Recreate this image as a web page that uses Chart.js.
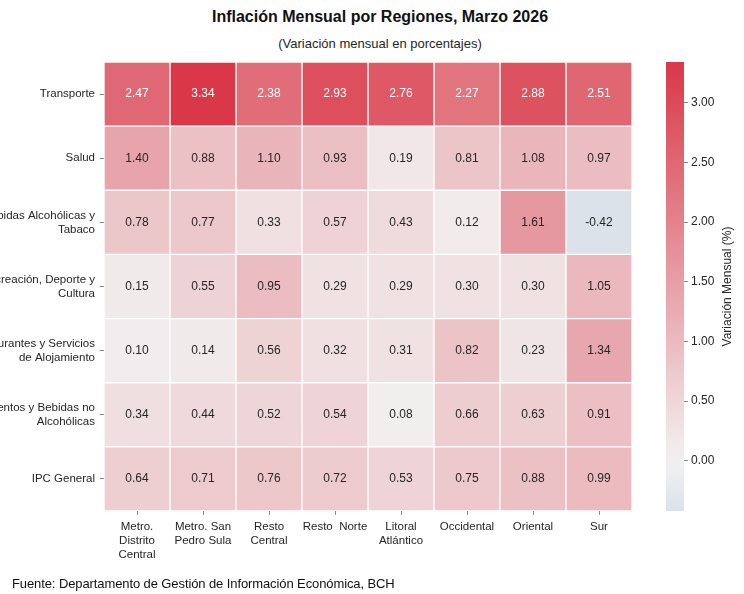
<!DOCTYPE html>
<html lang="es">
<head>
<meta charset="utf-8">
<title>Inflación Mensual por Regiones</title>
<script src="https://cdn.jsdelivr.net/npm/chart.js@4.4.1/dist/chart.umd.min.js"></script>
<style>
  html, body { margin: 0; padding: 0; background: #fff; }
  #wrap { position: relative; width: 744px; height: 594px; overflow: hidden; font-family: "Liberation Sans", Arial, sans-serif; color: #262626; }
  #heat { position: absolute; left: 0; top: 0; }
  #cbar { position: absolute; left: 650px; top: 0; }
  .title { position: absolute; left: 0; width: 760px; text-align: center; top: 7px; font-size: 16px; line-height: 20px; font-weight: bold; color: #111; }
  .subtitle { position: absolute; left: 0; width: 760px; text-align: center; top: 36px; font-size: 13px; line-height: 16px; }
  .footer { position: absolute; left: 12px; top: 576px; font-size: 13px; line-height: 16px; color: #111; letter-spacing: -0.1px; }
</style>
</head>
<body>
<div id="wrap">
  <div class="title">Inflación Mensual por Regiones, Marzo 2026</div>
  <div class="subtitle">(Variación mensual en porcentajes)</div>
  <canvas id="heat" width="744" height="594"></canvas>
  <canvas id="cbar" width="94" height="594"></canvas>
  <div class="footer">Fuente: Departamento de Gestión de Información Económica, BCH</div>
</div>
<script>
// Regions (columns) and categories (rows)
const regions = [
  ["Metro.", "Distrito", "Central"],
  ["Metro. San", "Pedro Sula"],
  ["Resto", "Central"],
  ["Resto  Norte"],
  ["Litoral", "Atlántico"],
  ["Occidental"],
  ["Oriental"],
  ["Sur"],
];
const categories = [
  ["Transporte"],
  ["Salud"],
  ["Bebidas Alcohólicas y", "Tabaco"],
  ["Recreación, Deporte y", "Cultura"],
  ["Restaurantes y Servicios", "de Alojamiento"],
  ["Alimentos y Bebidas no", "Alcohólicas"],
  ["IPC General"],
];

// Monthly variation (%) per category, one value per region
const transporte   = [2.47, 3.34, 2.38, 2.93, 2.76, 2.27, 2.88, 2.51];
const salud        = [1.40, 0.88, 1.10, 0.93, 0.19, 0.81, 1.08, 0.97];
const bebidas      = [0.78, 0.77, 0.33, 0.57, 0.43, 0.12, 1.61, -0.42];
const recreacion   = [0.15, 0.55, 0.95, 0.29, 0.29, 0.30, 0.30, 1.05];
const restaurantes = [0.10, 0.14, 0.56, 0.32, 0.31, 0.82, 0.23, 1.34];
const alimentos    = [0.34, 0.44, 0.52, 0.54, 0.08, 0.66, 0.63, 0.91];
const ipcGeneral   = [0.64, 0.71, 0.76, 0.72, 0.53, 0.75, 0.88, 0.99];

// Colour bar ticks
const cbarTicks = [0, 0.5, 1, 1.5, 2, 2.5, 3];

const rows = [transporte, salud, bebidas, recreacion, restaurantes, alimentos, ipcGeneral];
const allValues = rows.flat();
const VMIN = Math.min(...allValues);
const VMAX = Math.max(...allValues);

// Diverging palette centred at 0 (blue - light grey - red)
const MID = [242, 242, 242];
const HIGH = [218, 56, 72];
const LOW = [59, 117, 175];

function colorFor(v) {
  const t = Math.min(1, Math.abs(v) / VMAX);
  const end = v >= 0 ? HIGH : LOW;
  const c = MID.map((m, i) => Math.round(m + (end[i] - m) * t));
  return `rgb(${c[0]}, ${c[1]}, ${c[2]})`;
}

const TEXT = "#262626";
const FAMILY = "'Liberation Sans', Arial, sans-serif";
const FONT = { family: FAMILY, size: 12 };
const TICK_FONT = { family: FAMILY, size: 11.5, lineHeight: 1.22 };

// one stacked dataset per region, each cell one unit wide
const datasets = regions.map((r, j) => ({
  label: r.join(" "),
  data: categories.map(() => 1),
  values: rows.map(row => row[j]),
  backgroundColor: rows.map(row => colorFor(row[j])),
  borderColor: "#ffffff",
  borderWidth: 1,
  borderSkipped: false,
  barPercentage: 1,
  categoryPercentage: 1,
}));

const cellLabels = {
  id: "cellLabels",
  afterDatasetsDraw(chart) {
    const ctx = chart.ctx;
    ctx.save();
    ctx.font = `${FONT.size}px ${FONT.family}`;
    ctx.textAlign = "center";
    ctx.textBaseline = "middle";
    chart.data.datasets.forEach((ds, i) => {
      chart.getDatasetMeta(i).data.forEach((el, k) => {
        const v = ds.values[k];
        const p = el.getCenterPoint();
        ctx.fillStyle = v > 2 ? "#ffffff" : TEXT;
        ctx.fillText(v.toFixed(2), p.x, p.y);
      });
    });
    ctx.restore();
  },
};

new Chart(document.getElementById("heat"), {
  type: "bar",
  data: { labels: categories, datasets },
  options: {
    indexAxis: "y",
    responsive: false,
    animation: false,
    layout: { padding: { left: 0, right: 112, top: 62, bottom: 23 } },
    plugins: { legend: { display: false }, tooltip: { enabled: false } },
    scales: {
      x: {
        type: "linear",
        stacked: true,
        min: 0,
        max: regions.length,
        afterBuildTicks: (scale) => {
          scale.ticks = regions.map((_, i) => ({ value: i + 0.5 }));
        },
        afterFit: (scale) => { scale.height = 60; },
        border: { display: false },
        grid: { drawOnChartArea: false, drawTicks: true, tickLength: 4, color: "#8a8a8a" },
        ticks: {
          autoSkip: false,
          maxRotation: 0,
          minRotation: 0,
          padding: 5,
          color: TEXT,
          font: TICK_FONT,
          callback: (value, index) => regions[index],
        },
      },
      y: {
        stacked: true,
        afterFit: (scale) => { scale.width = 104; },
        border: { display: false },
        grid: { offset: false, drawOnChartArea: false, drawTicks: true, tickLength: 4, color: "#8a8a8a" },
        ticks: { padding: 5, color: TEXT, font: TICK_FONT },
      },
    },
  },
  plugins: [cellLabels],
});

// Colour bar
const cbarTitle = {
  id: "cbarTitle",
  afterDraw(chart) {
    const ctx = chart.ctx;
    const a = chart.chartArea;
    ctx.save();
    ctx.translate(78, (a.top + a.bottom) / 2);
    ctx.rotate(-Math.PI / 2);
    ctx.font = `${FONT.size}px ${FONT.family}`;
    ctx.fillStyle = TEXT;
    ctx.textAlign = "center";
    ctx.textBaseline = "middle";
    ctx.fillText("Variación Mensual (%)", 0, 0);
    ctx.restore();
  },
};

new Chart(document.getElementById("cbar"), {
  type: "bar",
  data: {
    labels: [""],
    datasets: [{
      data: [[VMIN, VMAX]],
      backgroundColor: (c) => {
        const chart = c.chart;
        if (!chart.chartArea) return "#ccc";
        const y = chart.scales.y;
        const g = chart.ctx.createLinearGradient(0, y.getPixelForValue(VMIN), 0, y.getPixelForValue(VMAX));
        const n = 20;
        for (let i = 0; i <= n; i++) {
          const v = VMIN + (VMAX - VMIN) * i / n;
          g.addColorStop(i / n, colorFor(v));
        }
        return g;
      },
      borderWidth: 0,
      barPercentage: 1,
      categoryPercentage: 1,
    }],
  },
  options: {
    responsive: false,
    animation: false,
    layout: { padding: { left: 16, right: 30, top: 62, bottom: 83 } },
    plugins: { legend: { display: false }, tooltip: { enabled: false } },
    scales: {
      x: { display: false },
      y: {
        position: "right",
        min: VMIN,
        max: VMAX,
        afterBuildTicks: (scale) => {
          scale.ticks = cbarTicks.map(v => ({ value: v }));
        },
        afterFit: (scale) => { scale.width = 30; },
        border: { display: false },
        grid: { drawOnChartArea: false, drawTicks: true, tickLength: 4, color: "#8a8a8a" },
        ticks: {
          padding: 3,
          color: TEXT,
          font: FONT,
          callback: (v) => Number(v).toFixed(2),
        },
      },
    },
  },
  plugins: [cbarTitle],
});
</script>
</body>
</html>
